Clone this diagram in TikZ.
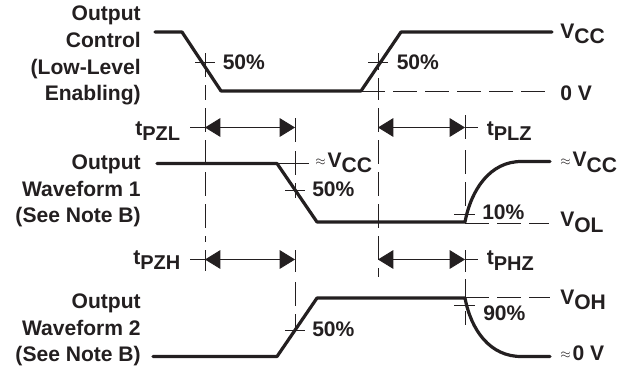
\documentclass[tikz,border=0pt]{standalone}
\usepackage{fontspec}
\setmainfont{Liberation Sans}
\usetikzlibrary{arrows.meta}
\definecolor{ink}{HTML}{231F20}
\newcommand{\low}[2]{#1\raisebox{-4.2pt}{#2}}
\newcommand{\lowt}[2]{#1\raisebox{-4.2pt}{\fontsize{15pt}{18pt}\selectfont #2}}
\newcommand{\appr}{\raisebox{1pt}{\fontsize{10pt}{11pt}\selectfont$\approx$}\kern1.5pt}
\tikzset{
  wave/.style={draw=ink,line width=2.4pt,line cap=round,line join=round},
  thin line/.style={draw=ink,line width=0.6pt},
  guide/.style={draw=ink,line width=0.6pt,dash pattern=on 18pt off 6pt},
  span/.style={draw=ink,line width=0.6pt,{Triangle[length=11.5pt,width=14pt]}-{Triangle[length=11.5pt,width=14pt]}},
  lab/.style={font=\bfseries\fontsize{15.8pt}{20pt}\selectfont,text=ink,inner sep=0pt,align=right,anchor=base east},
  val/.style={font=\bfseries\fontsize{15.8pt}{19pt}\selectfont,text=ink,inner sep=0pt,anchor=base west},
}
\begin{document}
\begin{tikzpicture}[x=0.75pt,y=-0.75pt]
\useasboundingbox[fill=white] (0,0) rectangle (627,368);
% waveforms
\draw[wave] (155,32) -- (182,32) -- (221,91) -- (361,91) -- (401,32) -- (552,32);
\draw[wave] (157,163.5) -- (277,163.5) -- (317,222) -- (465,222) .. controls (471,190) and (490,161) .. (522,161.5) -- (550,161.5);
\draw[wave] (153,356.5) -- (277,356.5) -- (317,298) -- (465,298) .. controls (471,330) and (490,357) .. (522,356.5) -- (550,356.5);
% guides
\draw[guide] (205,53) -- (205,100);
\draw[guide] (205,108) -- (205,242);
\draw[guide] (205,250) -- (205,271);
\draw[guide] (295,118) -- (295,143);
\draw[guide] (295,151) -- (295,198);
\draw[guide] (295,282) -- (295,330);
\draw[thin line] (295,250) -- (295,272);
\draw[thin line] (378,53) -- (378,70);
\draw[guide] (378,78) -- (378,100);
\draw[guide] (378,108) -- (378,277);
\draw[guide] (465,115) -- (465,143);
\draw[guide] (465,150) -- (465,222);
\draw[thin line] (465,250) -- (465,272);
\draw[guide] (465,279) -- (465,325);
\draw[guide] (361,91) -- (546,91);
\draw[guide] (465,223) -- (549,223);
\draw[guide] (465,297) -- (550,297);
% ticks
\draw[thin line] (195,62) -- (215,62);
\draw[thin line] (368,62) -- (388,62);
\draw[thin line] (277,163) -- (309,163);
\draw[thin line] (285,190.5) -- (305,190.5);
\draw[thin line] (285,330) -- (305,330);
\draw[thin line] (454,214) -- (475,214);
\draw[thin line] (454,305.5) -- (475,305.5);
% time spans
\coordinate (a1) at (205,127.5); \coordinate (a2) at (295,127.5);
\coordinate (b1) at (378,127.5); \coordinate (b2) at (465,127.5);
\coordinate (c1) at (205,259.5); \coordinate (c2) at (295,259.5);
\coordinate (d1) at (378,259.5); \coordinate (d2) at (465,259.5);
\draw[span] (a1) -- (a2);
\draw[span] (b1) -- (b2);
\draw[span] (c1) -- (c2);
\draw[span] (d1) -- (d2);
\draw[thin line] (190,127.5) -- (a1);
\draw[thin line] (b2) -- (478,127.5);
\draw[thin line] (190,259.5) -- (c1);
\draw[thin line] (d2) -- (478,259.5);
% left labels
\node[lab] (l1) at (141,100.7) {Output\\Control\\(Low-Level\\Enabling)};
\node[lab] (l2) at (141,222.7) {Output\\Waveform 1\\(See Note B)};
\node[lab] (l3) at (141,361.7) {Output\\Waveform 2\\(See Note B)};
% percentages
\node[val] (p1) at (222.5,69.3) {50\%};
\node[val] (p2) at (396.5,69) {50\%};
\node[val] (p3) at (312,196.7) {50\%};
\node[val] (p4) at (312,336.7) {50\%};
\node[val] (p5) at (482,219.3) {10\%};
\node[val] (p6) at (483,320) {90\%};
% levels
\node[val] (v1) at (560,38) {\low{V}{CC}};
\node[val] (v2) at (560,100) {0 V};
\node[val] (v3) at (315,167) {\appr\low{V}{CC}};
\node[val] (v4) at (560,166.5) {\appr\low{V}{CC}};
\node[val] (v5) at (560,226.7) {\low{V}{OL}};
\node[val] (v6) at (560,304) {\low{V}{OH}};
\node[val] (v7) at (560,360) {\appr 0 V};
% time labels
\node[val] (t1) at (135,135) {\lowt{t}{PZL}};
\node[val] (t2) at (133,264) {\lowt{t}{PZH}};
\node[val] (t3) at (486.5,135) {\lowt{t}{PLZ}};
\node[val] (t4) at (486.5,264.5) {\lowt{t}{PHZ}};
\end{tikzpicture}
\end{document}
